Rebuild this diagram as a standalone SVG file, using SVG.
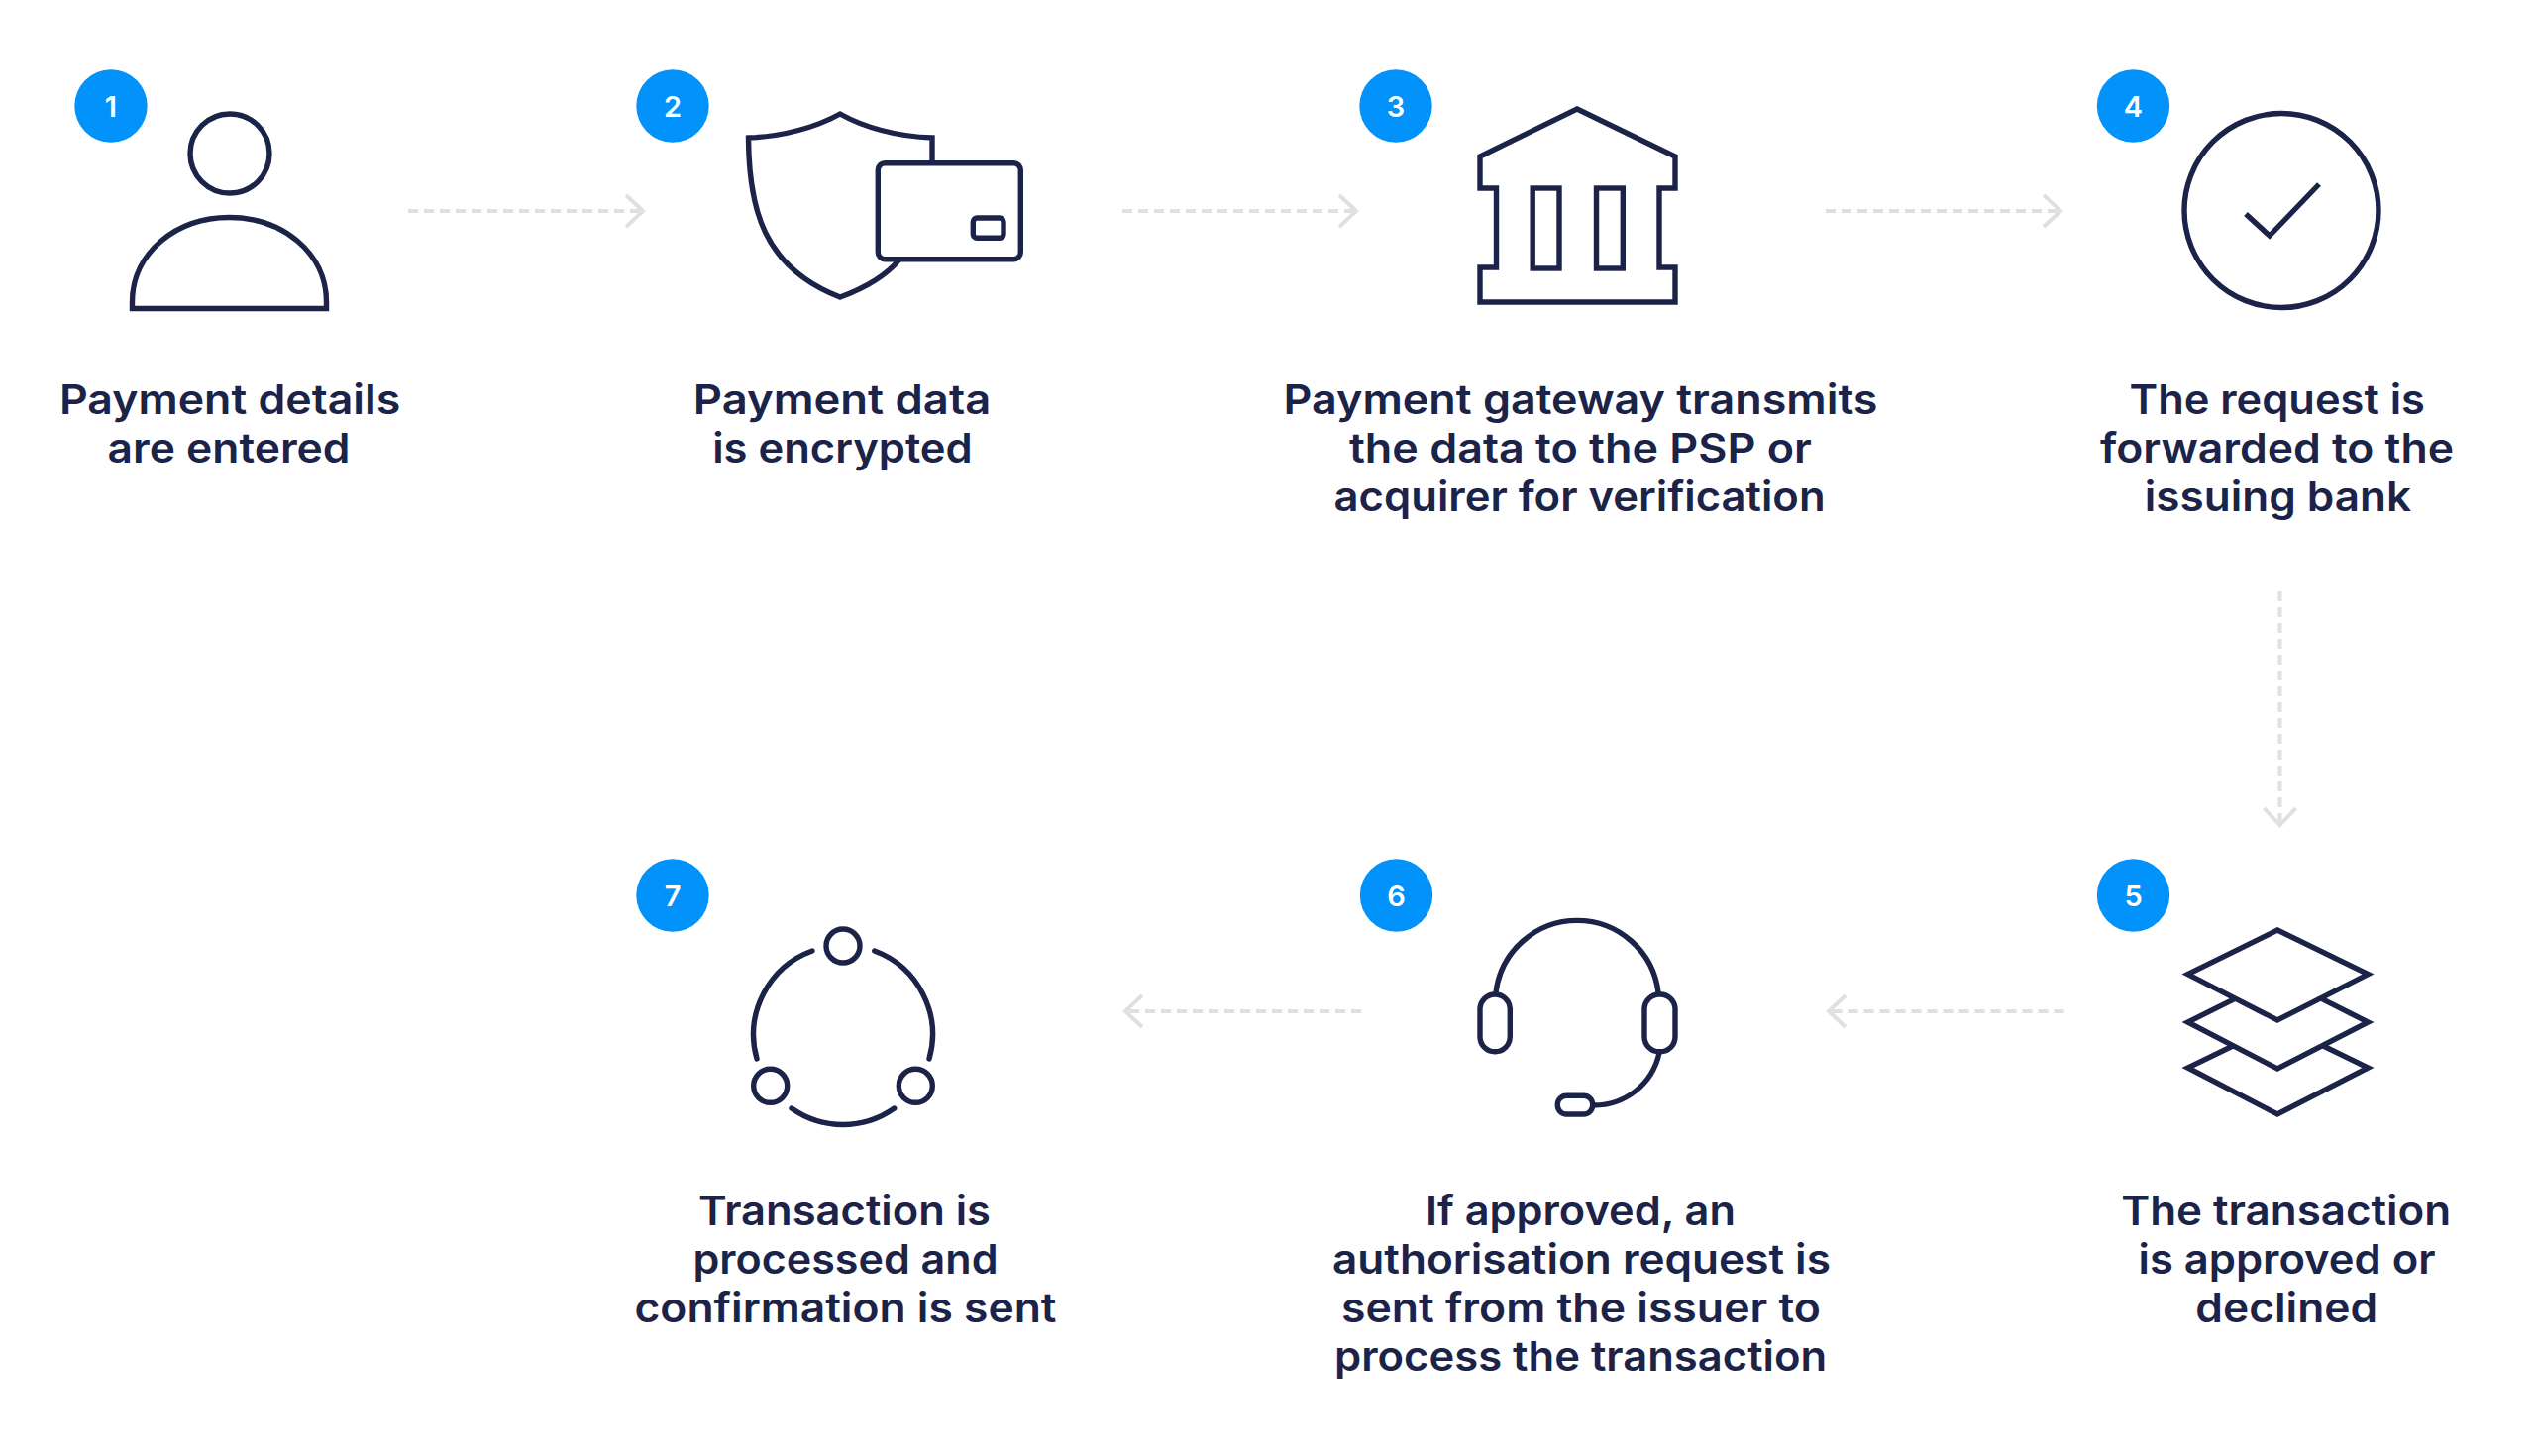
<svg xmlns="http://www.w3.org/2000/svg" width="2560" height="1470" viewBox="0 0 2560 1470">
<style>
.i{fill:none;stroke:#1b2349;stroke-width:5.4;stroke-linejoin:miter;stroke-miterlimit:10}
.r{stroke-linecap:round;stroke-linejoin:round}
.b{fill:#0292fb}
.n{fill:#fff;font:600 29px Inter,"Liberation Sans",sans-serif;text-anchor:middle}
.t{fill:#1b2349;font:600 41px Inter,"Liberation Sans",sans-serif}
.c{fill:none;stroke:#e0e0e0;stroke-width:4;stroke-dasharray:10 6;marker-end:url(#chev)}
</style>
<defs>
<marker id="chev" markerUnits="userSpaceOnUse" viewBox="-22 -20 26 40" refX="0" refY="0" markerWidth="26" markerHeight="40" orient="auto" overflow="visible">
<path d="M-17-16 0 0-17 16" fill="none" stroke="#e0e0e0" stroke-width="4"/>
</marker>
</defs>
<rect width="2560" height="1470" fill="#fff"/>
<g id="connectors">
<line class="c" x1="412" y1="213" x2="649" y2="213"/>
<line class="c" x1="1133" y1="213" x2="1369" y2="213"/>
<line class="c" x1="1843" y1="213" x2="2080" y2="213"/>
<line class="c" x1="2301.5" y1="597" x2="2301.5" y2="833"/>
<line class="c" x1="2083.5" y1="1021" x2="1846" y2="1021"/>
<line class="c" x1="1374" y1="1021" x2="1136" y2="1021"/>
</g>
<g id="node1">
<circle class="b" cx="112" cy="107" r="36.7"/><text class="n" x="112" y="118">1</text>
<circle class="i" cx="232" cy="155" r="40"/>
<path class="i" d="M133.5 311.500V305C133.500 255 178 219.500 231.500 219.500S329.500 255 329.500 305V311.500Z"/>
<text class="t" x="59.900" y="418" textLength="344.400" lengthAdjust="spacingAndGlyphs">Payment details</text>
<text class="t" x="108.500" y="467" textLength="245" lengthAdjust="spacingAndGlyphs">are entered</text>
</g>
<g id="node2">
<circle class="b" cx="679" cy="107" r="36.7"/><text class="n" x="679" y="118">2</text>
<path class="i" d="M941 163V139C905 138 871 128 848 115C825 128 790 138 755.500 139C756 210 770 270 848 300C870 292 893 280 908 262"/>
<rect class="i" x="886.300" y="164.700" width="144" height="97" rx="7"/>
<rect class="i" x="982.300" y="220" width="30.700" height="20.300" rx="4"/>
<text class="t" x="699.800" y="418" textLength="300.400" lengthAdjust="spacingAndGlyphs">Payment data</text>
<text class="t" x="719.200" y="467" textLength="262.600" lengthAdjust="spacingAndGlyphs">is encrypted</text>
</g>
<g id="node3">
<circle class="b" cx="1409" cy="107" r="36.7"/><text class="n" x="1409" y="118">3</text>
<path class="i" d="M1592 110 1691 158V190H1675V270H1691V305H1494V270H1510.500V190H1494V158Z"/>
<rect class="i" x="1547.200" y="190" width="26.800" height="81"/>
<rect class="i" x="1611.500" y="190" width="26.800" height="81"/>
<text class="t" x="1295.500" y="418" textLength="600" lengthAdjust="spacingAndGlyphs">Payment gateway transmits</text>
<text class="t" x="1361.900" y="467" textLength="467" lengthAdjust="spacingAndGlyphs">the data to the PSP or</text>
<text class="t" x="1346.600" y="516" textLength="496" lengthAdjust="spacingAndGlyphs">acquirer for verification</text>
</g>
<g id="node4">
<circle class="b" cx="2153.500" cy="107" r="36.7"/><text class="n" x="2153.500" y="118">4</text>
<circle class="i" cx="2303" cy="212.500" r="98"/>
<path class="i" d="M2267 216 2291 238 2341 186"/>
<text class="t" x="2149.500" y="418" textLength="298.400" lengthAdjust="spacingAndGlyphs">The request is</text>
<text class="t" x="2120" y="467" textLength="357" lengthAdjust="spacingAndGlyphs">forwarded to the</text>
<text class="t" x="2164.800" y="516" textLength="269.300" lengthAdjust="spacingAndGlyphs">issuing bank</text>
</g>
<g id="node5">
<circle class="b" cx="2153.500" cy="904" r="36.7"/><text class="n" x="2153.500" y="915">5</text>
<path class="i" d="M2299 939 2390.500 983.600 2299 1030 2208.500 983.600Z"/>
<path class="i" d="M2255.600 1008.600 2208.500 1032 2299 1079 2390.500 1032 2344 1008.600"/>
<path class="i" d="M2254 1056 2208.500 1078 2299 1125 2390.500 1078 2345.300 1056"/>
<text class="t" x="2141.200" y="1236.500" textLength="333" lengthAdjust="spacingAndGlyphs">The transaction</text>
<text class="t" x="2158.500" y="1285.500" textLength="300" lengthAdjust="spacingAndGlyphs">is approved or</text>
<text class="t" x="2216.300" y="1334.500" textLength="183.800" lengthAdjust="spacingAndGlyphs">declined</text>
</g>
<g id="node6">
<circle class="b" cx="1409.500" cy="904" r="36.7"/><text class="n" x="1409.500" y="915">6</text>
<path class="i r" d="M1510 1002A82.600 82.600 0 0 1 1674 1002"/>
<rect class="i" x="1494" y="1004" width="30.300" height="57.700" rx="15"/>
<rect class="i" x="1660" y="1004" width="31" height="57.700" rx="15"/>
<path class="i r" d="M1675 1063C1668 1095 1640 1116 1609 1116"/>
<rect class="i" x="1572.300" y="1106.300" width="35.400" height="18.700" rx="9"/>
<text class="t" x="1438.900" y="1236.500" textLength="313" lengthAdjust="spacingAndGlyphs">If approved, an</text>
<text class="t" x="1344.900" y="1285.500" textLength="503" lengthAdjust="spacingAndGlyphs">authorisation request is</text>
<text class="t" x="1353.900" y="1334.500" textLength="484" lengthAdjust="spacingAndGlyphs">sent from the issuer to</text>
<text class="t" x="1347.100" y="1383.500" textLength="497" lengthAdjust="spacingAndGlyphs">process the transaction</text>
</g>
<g id="node7">
<circle class="b" cx="679" cy="904" r="36.7"/><text class="n" x="679" y="915">7</text>
<circle class="i" cx="851" cy="955" r="17"/>
<circle class="i" cx="777.700" cy="1096.300" r="17"/>
<circle class="i" cx="924.300" cy="1096.300" r="17"/>
<path class="i r" d="M820 960A90 90 0 0 0 764 1069"/>
<path class="i r" d="M882.700 960A90 90 0 0 1 938 1069"/>
<path class="i r" d="M799 1119A90 90 0 0 0 902.700 1119"/>
<text class="t" x="705" y="1236.500" textLength="295" lengthAdjust="spacingAndGlyphs">Transaction is</text>
<text class="t" x="699.500" y="1285.500" textLength="308" lengthAdjust="spacingAndGlyphs">processed and</text>
<text class="t" x="640.500" y="1334.500" textLength="426" lengthAdjust="spacingAndGlyphs">confirmation is sent</text>
</g>
</svg>
